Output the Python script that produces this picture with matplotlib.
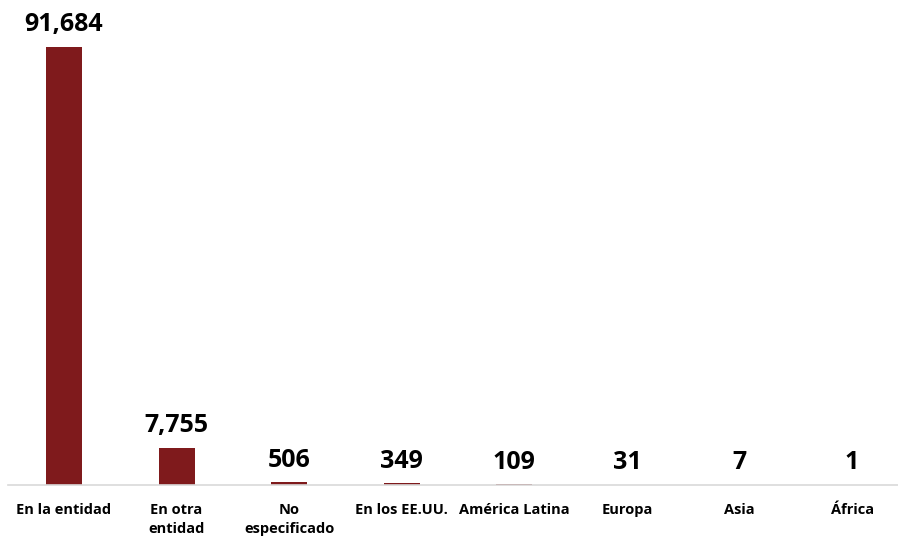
import matplotlib.pyplot as plt

plt.rcParams['font.family'] = ['Open Sans', 'DejaVu Sans']

categorias = ['En la entidad', 'En otra\nentidad', 'No\nespecificado', 'En los EE.UU.',
              'América Latina', 'Europa', 'Asia', 'África']
valores = [91684, 7755, 506, 349, 109, 31, 7, 1]

fig = plt.figure(figsize=(8.98, 5.37), dpi=100)
ax = fig.add_axes([0.0086, 0.097, 1.003, 0.89])

x = range(len(categorias))
ax.bar(x, valores, width=0.32, color='#7F1A1C')

for xi, v in zip(x, valores):
    ax.text(xi, v + 2000, format(v, ','), ha='center', va='bottom',
            fontsize=18, fontweight='bold', color='black')

ax.set_xlim(-0.5, len(categorias) - 0.5)
ax.set_ylim(0, 100000)
ax.set_xticks(list(x))
ax.set_xticklabels(categorias, fontsize=10.5, fontweight='bold', linespacing=1.45)
ax.tick_params(axis='x', length=0, pad=13)
ax.set_yticks([])
for s in ['top', 'right', 'left']:
    ax.spines[s].set_visible(False)
ax.spines['bottom'].set_color('#d9d9d9')
ax.spines['bottom'].set_linewidth(1.2)

fig.savefig('out.png', dpi=100)
